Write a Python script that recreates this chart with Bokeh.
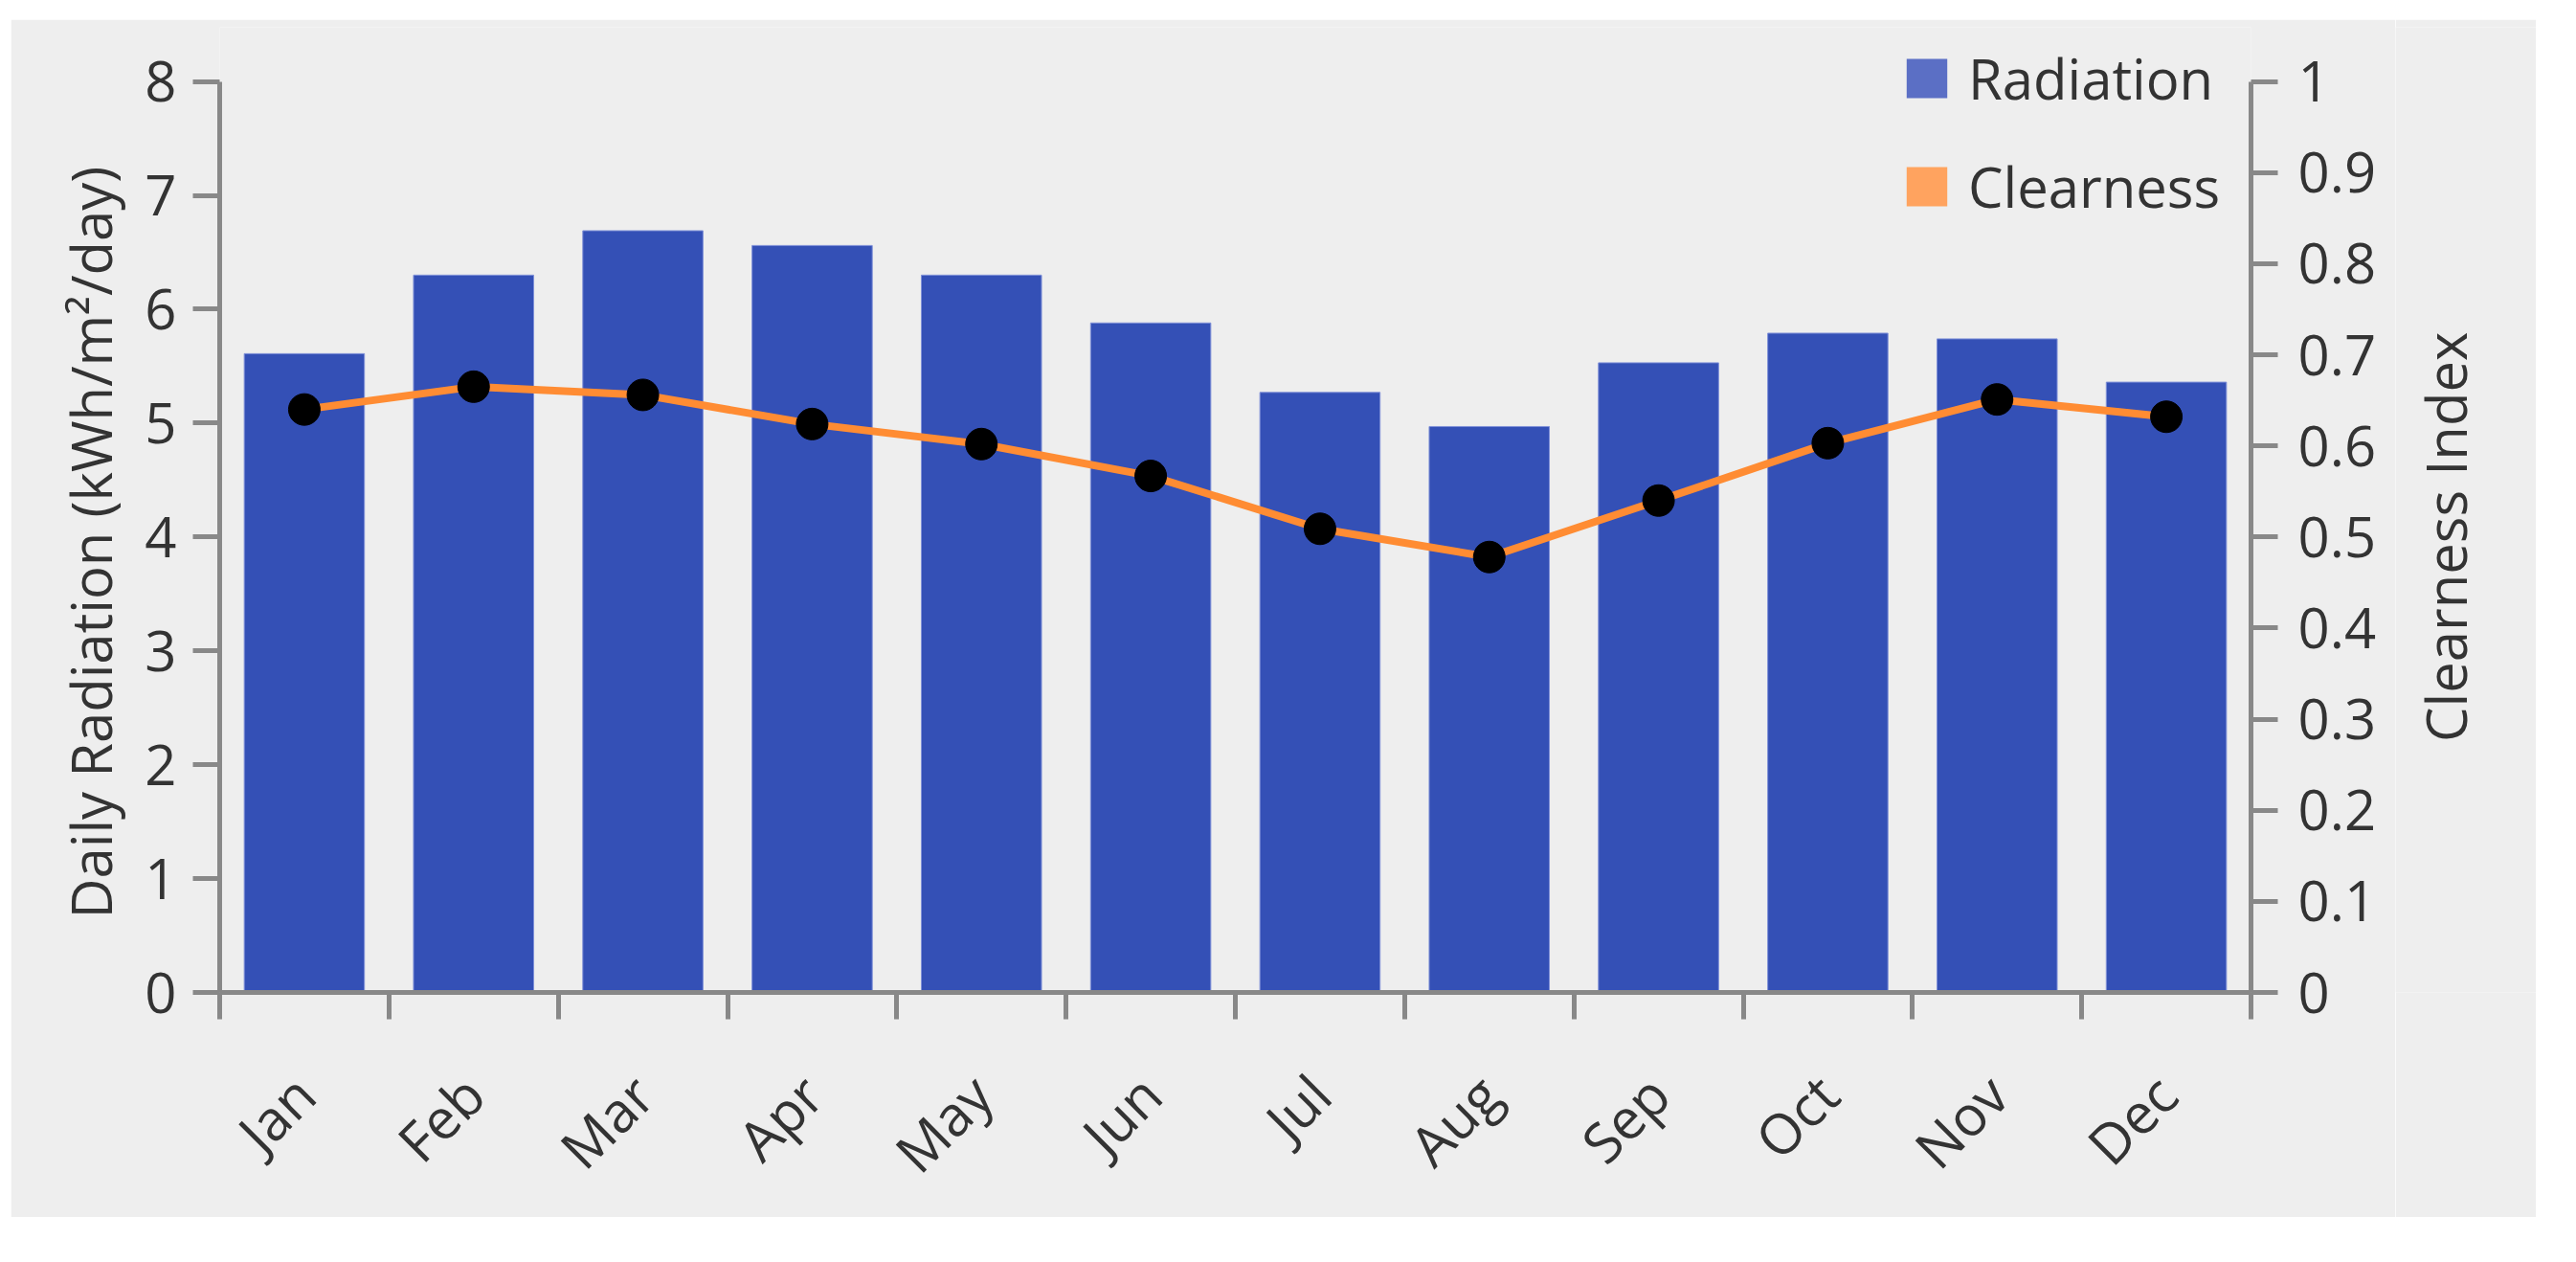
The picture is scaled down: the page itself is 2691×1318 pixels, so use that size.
import math
from bokeh.plotting import figure
from bokeh.layouts import row
from bokeh.models import (Range1d, LinearAxis, FixedTicker, Legend, LegendItem,
                          ColumnDataSource, Title, Label)
from bokeh.embed import file_html
from bokeh.resources import INLINE

# ---- data -----------------------------------------------------------------
months = ["Jan", "Feb", "Mar", "Apr", "May", "Jun",
          "Jul", "Aug", "Sep", "Oct", "Nov", "Dec"]
radiation = [5.61, 6.30, 6.69, 6.56, 6.30, 5.88, 5.27, 4.97, 5.53, 5.79, 5.74, 5.36]
clearness = [0.640, 0.665, 0.656, 0.624, 0.602, 0.567, 0.509, 0.478, 0.540, 0.603, 0.651, 0.632]
left_ticks = [0, 1, 2, 3, 4, 5, 6, 7, 8]
right_ticks = [0, 0.1, 0.2, 0.3, 0.4, 0.5, 0.6, 0.7, 0.8, 0.9, 1.0]
right_tick_labels = ["0", "0.1", "0.2", "0.3", "0.4", "0.5", "0.6", "0.7", "0.8", "0.9", "1"]
left_title = "Daily Radiation (kWh/m\u00b2/day)"
right_title = "Clearness Index"
series_names = ["Radiation", "Clearness"]

# ---- derived --------------------------------------------------------------
centers = [i + 0.5 for i in range(len(months))]
bounds = [float(i) for i in range(len(months) + 1)]
src = ColumnDataSource(dict(x=centers, rad=radiation, clr=clearness))

FONT = "Open Sans"
FS = "58px"
TXT = "#333333"
AX = "#888888"
BG = "#eeeeee"

# layout (pixels)
FIG_H = 1251
BOTTOM = 229
FRAME_H = 1014          # frame taller than the axes so the legend fits inside
AXIS_H = 957
TOP = FIG_H - BOTTOM - FRAME_H
left_max = left_ticks[-1]
right_max = right_ticks[-1]
left_range = Range1d(0, left_max * FRAME_H / AXIS_H)
right_range_end = right_max * FRAME_H / AXIS_H

p = figure(width=2491, height=FIG_H, output_backend="svg", toolbar_location=None,
           x_range=Range1d(0, 12), y_range=left_range,
           background_fill_color=BG, border_fill_color=BG,
           min_border_left=218, min_border_right=151,
           min_border_top=TOP, min_border_bottom=BOTTOM)
p.title.visible = False
p.outline_line_color = None
p.xgrid.visible = False
p.ygrid.visible = False
p.extra_y_ranges = {"clear": Range1d(0, right_range_end)}


def style(ax):
    ax.axis_line_color = AX
    ax.axis_line_width = 5
    ax.major_tick_line_color = AX
    ax.major_tick_line_width = 5
    ax.major_tick_out = 28
    ax.major_tick_in = 0
    ax.minor_tick_line_color = None
    ax.major_label_text_font = FONT
    ax.major_label_text_font_size = FS
    ax.major_label_text_color = TXT


# x axis: labels at centres, ticks at month boundaries
xa = p.xaxis[0]
style(xa)
xa.ticker = FixedTicker(ticks=centers, minor_ticks=bounds)
xa.major_tick_out = 0
xa.major_tick_line_color = None
xa.minor_tick_line_color = AX
xa.minor_tick_line_width = 5
xa.minor_tick_out = 28
xa.minor_tick_in = 0
xa.major_label_overrides = {c: m for c, m in zip(centers, months)}
xa.major_label_orientation = math.pi / 4
xa.major_label_standoff = 68

# left axis
ya = p.yaxis[0]
style(ya)
ya.ticker = FixedTicker(ticks=left_ticks)
ya.bounds = (0, left_max)
ya.major_label_standoff = 17

# left axis title (side-panel title, shifted up from the frame bottom)
lt = Title(text=left_title, align="left", offset=77,
           text_font=FONT, text_font_size=FS, text_color=TXT,
           text_font_style="normal", standoff=30)
p.add_layout(lt, "left")

# right axis
ra = LinearAxis(y_range_name="clear", ticker=FixedTicker(ticks=right_ticks))
style(ra)
ra.bounds = (0, right_max)
ra.major_label_overrides = {t: s for t, s in zip(right_ticks, right_tick_labels)}
ra.major_label_standoff = 21
p.add_layout(ra, "right")

# bars, line, markers
p.vbar(x="x", top="rad", width=0.71, source=src,
       fill_color="#3450B6", line_color="#7F90D8", line_width=1)
p.line(x="x", y="clr", source=src, y_range_name="clear",
       line_color="#FF8C33", line_width=8)
p.scatter(x="x", y="clr", source=src, y_range_name="clear",
          size=33, fill_color="black", line_color="black")

# legend swatches (zero-size renderers, only their legend swatch shows)
leg_rad = p.vbar(x=centers[:1], top=[0], width=0, fill_color="#5B6FC5", line_color=None)
leg_clr = p.vbar(x=centers[:1], top=[0], width=0, fill_color="#FFA35F", line_color=None)
legend = Legend(items=[LegendItem(label=series_names[0], renderers=[leg_rad]),
                       LegendItem(label=series_names[1], renderers=[leg_clr])],
                location=(1757, 802))
legend.glyph_width = 53
legend.glyph_height = 51
legend.label_height = 51
legend.label_standoff = 17
legend.label_text_font = FONT
legend.label_text_font_size = FS
legend.label_text_color = TXT
legend.padding = 0
legend.margin = 0
legend.spacing = 34
legend.border_line_color = None
legend.background_fill_alpha = 0
p.add_layout(legend)

# right-hand strip holding the right axis title (reads bottom-to-top)
q = figure(width=147, height=FIG_H, output_backend="svg", toolbar_location=None,
           x_range=Range1d(0, 1), y_range=Range1d(0, right_range_end),
           x_axis_type=None, y_axis_type=None,
           background_fill_color=BG, border_fill_color=BG,
           min_border_left=0, min_border_right=0,
           min_border_top=TOP, min_border_bottom=BOTTOM)
q.title.visible = False
q.outline_line_color = None
q.grid.visible = False
q.add_layout(Label(x=52, x_units="screen", y=right_max / 2, text=right_title,
                   angle=math.pi / 2, text_align="center", text_baseline="middle",
                   text_font=FONT, text_font_size=FS, text_color=TXT))

layout = row(p, q, spacing=0)
layout.margin = (20, 0, 0, 11)

open("out.html", "w").write(file_html(layout, INLINE))
